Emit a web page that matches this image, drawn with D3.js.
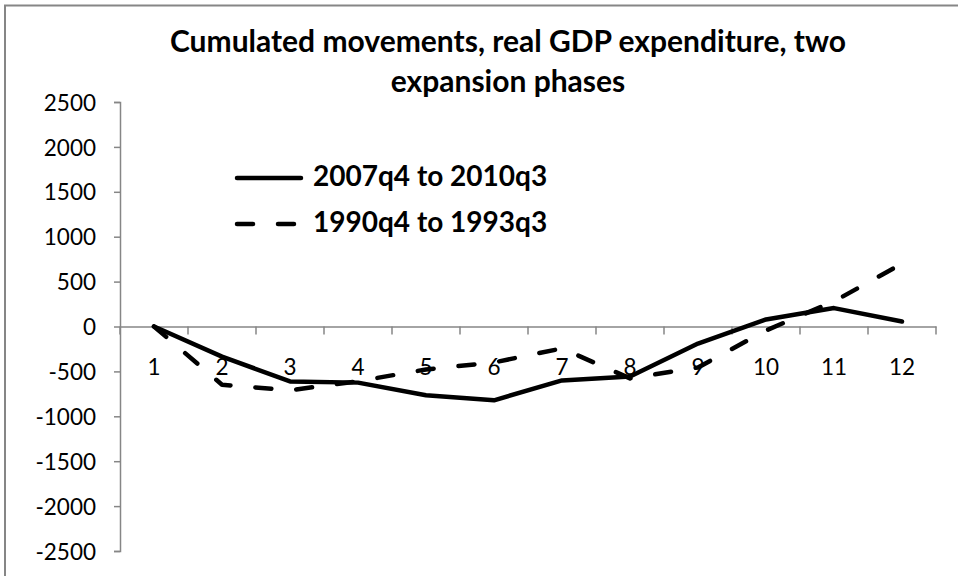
<!DOCTYPE html>
<html>
<head>
<meta charset="utf-8">
<script src="https://cdn.jsdelivr.net/npm/d3@7"></script>
<style>
  html, body { margin: 0; padding: 0; background: #fff; }
  svg { display: block; }
  text { font-family: Lato, "Open Sans", sans-serif; fill: #000; }
</style>
</head>
<body>
<svg id="chart" width="958" height="576"></svg>
<script>
const categories = ["1","2","3","4","5","6","7","8","9","10","11","12"];
const seriesNames = ["2007q4 to 2010q3", "1990q4 to 1993q3"];
const series2007 = [0, -335, -612, -625, -765, -822, -600, -556, -190, 78, 205, 55];
const series1990 = [0, -648, -710, -610, -478, -400, -244, -578, -456, -44, 280, 700];
const yTicks = [2500, 2000, 1500, 1000, 500, 0, -500, -1000, -1500, -2000, -2500];
const titleLines = ["Cumulated movements, real GDP expenditure, two", "expansion phases"];

const svg = d3.select("#chart");
const plot = { left: 120, right: 936, top: 102, bottom: 551 };
const axisGrey = "#868686";

// outer chart frame (extends beyond viewport on right/bottom)
svg.append("rect")
  .attr("x", 5).attr("y", 5.5)
  .attr("width", 1100).attr("height", 700)
  .attr("fill", "none").attr("stroke", axisGrey).attr("stroke-width", 2);

const x = d3.scaleBand().domain(categories).range([plot.left, plot.right]).paddingInner(0).paddingOuter(0);
const y = d3.scaleLinear().domain([-2500, 2500]).range([plot.bottom, plot.top]);

// Y axis
const yAxis = d3.axisLeft(y).tickValues(yTicks).tickSize(6).tickPadding(18).tickFormat(d => String(d));
const yg = svg.append("g").attr("transform", `translate(${plot.left},0)`).call(yAxis);
yg.select(".domain").attr("stroke", axisGrey).attr("stroke-width", 1.5);
yg.selectAll(".tick line").attr("stroke", axisGrey).attr("stroke-width", 1.5);
yg.selectAll(".tick text")
  .style("font-family", "Lato, sans-serif").style("font-size", "22.5px").attr("fill", "#000")
  .attr("dy", "0.36em");

// X axis at y=0
const xAxis = d3.axisBottom(x).tickSize(0).tickPadding(0);
const xg = svg.append("g").attr("transform", `translate(0,${y(0)})`).call(xAxis);
xg.select(".domain").attr("stroke", axisGrey).attr("stroke-width", 1.5);
xg.selectAll(".tick text")
  .style("font-family", "Lato, sans-serif").style("font-size", "22.5px").attr("fill", "#000")
  .attr("y", 48).attr("dy", 0);
// category boundary tick marks
const bounds = categories.map(c => x(c)).concat([x(categories[categories.length-1]) + x.bandwidth()]);
xg.selectAll(".bound").data(bounds).enter().append("line")
  .attr("class", "bound")
  .attr("x1", d => d).attr("x2", d => d)
  .attr("y1", 0).attr("y2", 8)
  .attr("stroke", axisGrey).attr("stroke-width", 1.5);

const cx = c => x(c) + x.bandwidth() / 2;
const line = d3.line().x((d, i) => cx(categories[i])).y(d => y(d));

// Dashed series
svg.append("path").datum(series1990)
  .attr("d", line)
  .attr("fill", "none").attr("stroke", "#000").attr("stroke-width", 4.5)
  .attr("stroke-linecap", "round").attr("stroke-linejoin", "round")
  .attr("stroke-dasharray", "16,25");

// Solid series
svg.append("path").datum(series2007)
  .attr("d", line)
  .attr("fill", "none").attr("stroke", "#000").attr("stroke-width", 4.5)
  .attr("stroke-linecap", "round").attr("stroke-linejoin", "round");

// Title
const title = svg.append("text")
  .attr("text-anchor", "middle")
  .style("font-weight", "bold").style("font-size", "30px");
title.selectAll("tspan").data(titleLines).enter().append("tspan")
  .attr("x", 508).attr("y", (d, i) => 52 + i * 40).text(d => d);

// Legend
const legend = svg.append("g");
const legendRows = [
  { name: seriesNames[0], dash: null, y: 178 },
  { name: seriesNames[1], dash: "16,25", y: 224 }
];
legendRows.forEach(r => {
  legend.append("line")
    .attr("x1", 237).attr("x2", 301).attr("y1", r.y).attr("y2", r.y)
    .attr("stroke", "#000").attr("stroke-width", 4.5).attr("stroke-linecap", "round")
    .attr("stroke-dasharray", r.dash);
  legend.append("text")
    .attr("x", 313).attr("y", r.y + 8)
    .style("font-weight", "bold").style("font-size", "28px")
    .text(r.name);
});
</script>
</body>
</html>
